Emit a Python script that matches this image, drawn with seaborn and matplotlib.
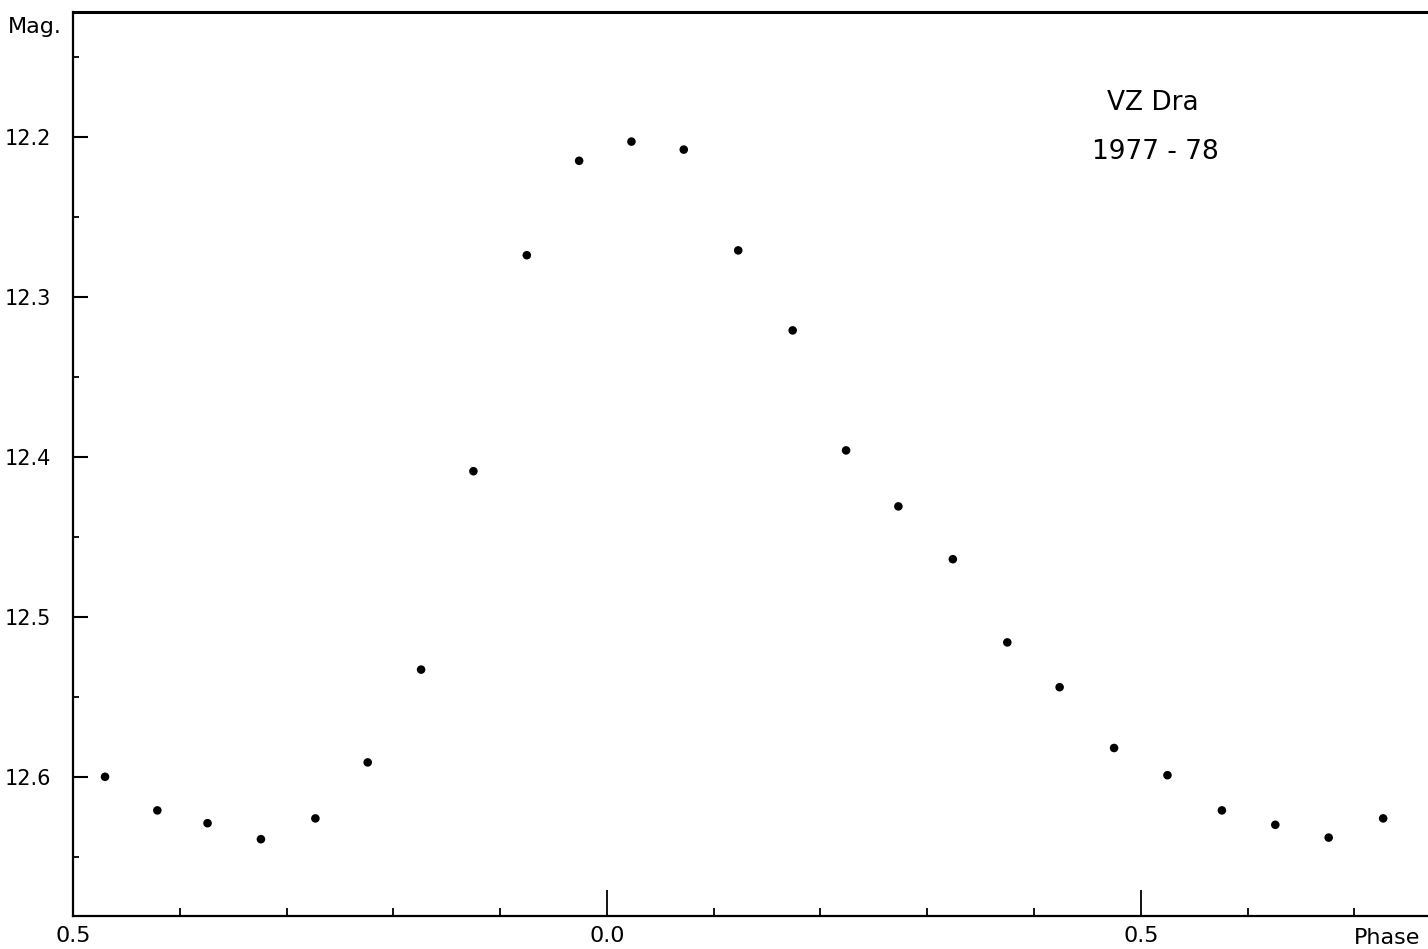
import matplotlib
matplotlib.use("Agg")
import matplotlib.pyplot as plt
from matplotlib.ticker import MultipleLocator, FixedLocator
import pandas as pd
import seaborn as sns

# light curve of VZ Dra, 1977-78
phase = [-0.470, -0.421, -0.374, -0.324, -0.273, -0.224, -0.174, -0.125,
         -0.075, -0.026, 0.023, 0.072, 0.123, 0.174, 0.224, 0.273,
         0.324, 0.375, 0.424, 0.475, 0.525, 0.576, 0.626, 0.676, 0.727]
mag = [12.600, 12.621, 12.629, 12.639, 12.626, 12.591, 12.533, 12.409,
       12.274, 12.215, 12.203, 12.208, 12.271, 12.321, 12.396, 12.431,
       12.464, 12.516, 12.544, 12.582, 12.599, 12.621, 12.630, 12.638, 12.626]

x_major = [-0.5, 0.0, 0.5]
x_labels = ["0.5", "0.0", "0.5"]
y_major = [12.2, 12.3, 12.4, 12.5, 12.6]
y_labels = ["12.2", "12.3", "12.4", "12.5", "12.6"]

df = pd.DataFrame({"phase": phase, "mag": mag})

sns.set_style("ticks")
plt.rcParams["font.family"] = ["DejaVu Sans"]
plt.rcParams["text.color"] = "black"
plt.rcParams["axes.edgecolor"] = "black"
plt.rcParams["xtick.color"] = "black"
plt.rcParams["ytick.color"] = "black"

W, H = 1428, 949
fig = plt.figure(figsize=(W / 100, H / 100), dpi=100)
ax = fig.add_axes([73 / W, 33 / H, (W - 73) / W, (916 - 12) / H])

sns.scatterplot(data=df, x="phase", y="mag", ax=ax, color="black",
                s=38, edgecolor="none", legend=False)

ax.set_xlim(-0.5, 0.769)
ax.set_ylim(12.687, 12.122)

ax.xaxis.set_major_locator(FixedLocator(x_major))
ax.set_xticklabels(x_labels)
ax.xaxis.set_minor_locator(MultipleLocator(0.1))
ax.yaxis.set_major_locator(FixedLocator(y_major))
ax.set_yticklabels(y_labels)
ax.yaxis.set_minor_locator(MultipleLocator(0.05))

ax.tick_params(axis="x", which="major", direction="in", length=19, width=1.3,
               labelsize=16, pad=7, top=False, colors="black")
ax.tick_params(axis="x", which="minor", direction="in", length=6, width=1.3,
               top=False, colors="black")
ax.tick_params(axis="y", which="major", direction="in", length=11, width=1.5,
               labelsize=15, pad=16, right=False, colors="black")
ax.tick_params(axis="y", which="minor", direction="in", length=4, width=1.3,
               right=False, colors="black")

ax.set_xlabel("")
ax.set_ylabel("")
ax.spines["right"].set_visible(False)
for s in ["left", "bottom"]:
    ax.spines[s].set_linewidth(1.6)
ax.spines["top"].set_linewidth(2.2)

fig.text(8 / W, 1 - 27 / H, "Mag.", fontsize=16, va="center", ha="left")
fig.text(1387 / W, 1 - 938 / H, "Phase", fontsize=16, va="center", ha="center")

ax.text(1153 / W, 1 - 103 / H, "VZ Dra", transform=fig.transFigure,
        fontsize=19, ha="center", va="center")
ax.text(1155 / W, 1 - 152 / H, "1977 - 78", transform=fig.transFigure,
        fontsize=19, ha="center", va="center")

fig.savefig("out.png", dpi=100)
